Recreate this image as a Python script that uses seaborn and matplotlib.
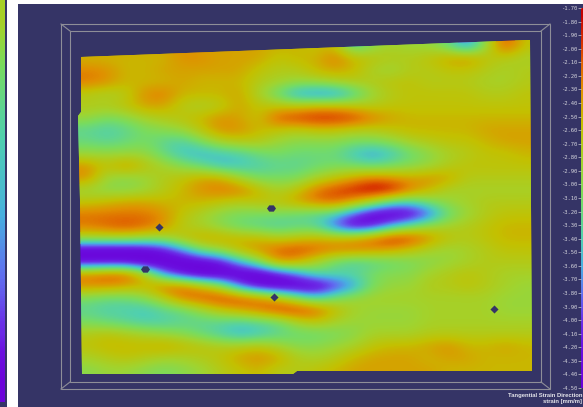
#!/usr/bin/env python3
# -*- coding: utf-8 -*-
"""
Tangential strain map with colour scale
"""

import numpy as np
import pandas as pd
import matplotlib
matplotlib.use('Agg')
import matplotlib.pyplot as plt
from matplotlib.colors import LinearSegmentedColormap
from matplotlib.patches import Polygon, Rectangle
import seaborn as sns

W, H = 583, 407
NAVY = '#353466'
FRAME = '#8e8e98'

# strain, one list per row, top to bottom
row_046 = [-2.4,-2.4,-2.4,-2.4,-2.4,-2.3,-2.4,-2.4,-2.4,-2.4,-2.5,-2.5,-2.6,-2.5,-3.4,-3.0,-2.8,-2.9,-2.9,-3.2,-3.8,-2.9,-2.0,-2.6]
row_058 = [-2.5,-2.5,-2.5,-2.5,-2.5,-2.3,-2.3,-2.4,-2.4,-2.4,-2.6,-2.5,-2.5,-2.2,-2.5,-2.6,-2.7,-2.7,-2.6,-2.4,-2.3,-2.6,-2.7,-2.8]
row_070 = [-2.25,-2.3,-2.5,-2.5,-2.4,-2.4,-2.4,-2.4,-2.4,-2.6,-2.7,-2.7,-2.5,-2.4,-2.5,-2.8,-2.9,-2.7,-2.7,-2.6,-2.6,-2.7,-2.8,-2.7]
row_082 = [-2.2,-2.3,-2.5,-2.5,-2.5,-2.4,-2.5,-2.5,-2.5,-2.7,-2.8,-2.9,-2.9,-2.8,-2.7,-2.7,-2.6,-2.6,-2.7,-2.7,-2.7,-2.8,-2.8,-2.7]
row_094 = [-2.7,-2.8,-2.7,-2.3,-2.2,-2.5,-2.5,-2.5,-2.4,-2.8,-3.2,-3.7,-3.8,-3.8,-3.4,-2.9,-2.7,-2.6,-2.6,-2.6,-2.6,-2.7,-2.7,-2.6]
row_106 = [-2.7,-2.7,-2.6,-2.4,-2.4,-2.7,-2.8,-2.7,-2.4,-2.6,-2.6,-2.6,-2.5,-2.5,-2.6,-2.7,-2.6,-2.6,-2.6,-2.6,-2.6,-2.6,-2.6,-2.6]
row_118 = [-2.9,-3.1,-3.0,-2.8,-2.7,-2.6,-2.5,-2.3,-2.4,-2.6,-2.05,-1.95,-1.85,-1.85,-1.95,-2.2,-2.4,-2.5,-2.5,-2.5,-2.5,-2.5,-2.5,-2.5]
row_130 = [-3.3,-3.4,-3.3,-3.1,-3.0,-2.9,-2.6,-2.3,-2.3,-2.5,-2.6,-2.7,-2.6,-2.6,-2.7,-2.7,-2.6,-2.5,-2.5,-2.5,-2.5,-2.4,-2.4,-2.4]
row_142 = [-3.2,-3.3,-3.2,-3.1,-3.3,-3.4,-3.1,-2.8,-2.7,-2.7,-2.9,-3.0,-3.0,-3.0,-3.1,-3.1,-3.0,-2.8,-2.7,-2.6,-2.6,-2.5,-2.4,-2.4]
row_154 = [-2.9,-2.9,-2.9,-2.9,-3.2,-3.5,-3.6,-3.5,-3.4,-3.2,-3.1,-3.2,-3.2,-3.2,-3.5,-3.7,-3.5,-3.2,-3.0,-2.8,-2.7,-2.6,-2.6,-2.5]
row_166 = [-2.3,-2.6,-2.3,-2.6,-2.8,-3.0,-3.2,-3.5,-3.5,-3.4,-3.3,-3.3,-3.2,-3.1,-3.1,-3.2,-3.1,-3.0,-2.9,-2.7,-2.6,-2.6,-2.6,-2.6]
row_178 = [-2.3,-2.9,-3.0,-2.9,-2.7,-2.6,-2.4,-2.4,-2.8,-3.1,-3.1,-3.1,-2.8,-2.6,-2.4,-2.2,-2.3,-2.4,-2.3,-2.4,-2.7,-2.7,-2.7,-2.7]
row_190 = [-2.9,-3.0,-3.0,-2.9,-2.7,-2.5,-2.3,-2.2,-2.2,-2.5,-2.8,-2.6,-2.2,-2.0,-1.85,-1.7,-1.75,-2.2,-2.5,-2.8,-2.8,-2.8,-2.8,-2.8]
row_202 = [-2.6,-2.5,-2.4,-2.4,-2.5,-2.5,-2.5,-2.6,-2.7,-2.6,-2.6,-2.4,-2.2,-2.1,-2.4,-2.8,-3.3,-3.4,-3.1,-2.9,-2.8,-2.7,-2.7,-2.7]
row_214 = [-2.2,-2.2,-2.2,-2.2,-2.3,-2.6,-2.8,-3.0,-3.1,-3.1,-3.1,-3.2,-3.3,-3.4,-3.9,-4.4,-4.5,-4.4,-3.9,-3.2,-2.9,-2.7,-2.6,-2.6]
row_226 = [-2.2,-2.1,-2.0,-2.1,-2.3,-2.7,-2.8,-3.0,-3.2,-3.3,-3.4,-3.3,-3.3,-3.9,-4.4,-4.2,-3.6,-3.2,-2.9,-2.8,-2.7,-2.6,-2.5,-2.5]
row_238 = [-2.8,-2.8,-2.8,-2.9,-2.9,-2.6,-2.4,-2.4,-2.5,-2.5,-2.7,-2.6,-2.5,-2.5,-2.4,-2.15,-1.85,-1.95,-2.3,-2.6,-2.7,-2.6,-2.5,-2.5]
row_250 = [-4.5,-4.5,-4.5,-4.4,-4.2,-3.7,-3.1,-2.9,-2.5,-2.3,-2.1,-2.0,-2.1,-2.2,-2.2,-2.3,-2.4,-2.6,-2.8,-2.9,-2.8,-2.7,-2.6,-2.6]
row_262 = [-4.3,-4.3,-4.3,-4.5,-4.5,-4.5,-4.4,-4.2,-3.6,-3.1,-2.3,-2.4,-2.8,-3.2,-3.4,-3.3,-3.2,-3.1,-3.0,-2.9,-2.8,-2.7,-2.7,-2.7]
row_274 = [-2.2,-2.05,-2.05,-2.6,-3.7,-4.2,-4.5,-4.5,-4.5,-4.5,-4.2,-3.8,-3.3,-3.3,-3.3,-3.1,-3.0,-3.0,-2.8,-2.7,-2.6,-2.7,-2.8,-2.8]
row_286 = [-2.3,-2.3,-2.4,-2.5,-2.15,-2.15,-2.5,-2.9,-3.8,-4.3,-4.5,-4.5,-4.5,-4.1,-3.7,-3.1,-2.9,-2.9,-2.7,-2.7,-2.6,-2.7,-2.8,-2.9]
row_298 = [-3.1,-3.2,-3.2,-3.0,-2.7,-2.2,-2.05,-1.95,-2.0,-2.2,-2.5,-3.0,-3.4,-3.1,-2.9,-2.8,-2.8,-2.8,-2.8,-2.8,-2.8,-2.8,-2.9,-2.9]
row_310 = [-3.3,-3.4,-3.4,-3.5,-3.3,-3.2,-2.9,-2.6,-2.4,-2.2,-1.95,-1.9,-2.05,-2.5,-2.8,-2.9,-2.9,-2.9,-2.8,-2.8,-2.8,-2.8,-2.9,-2.9]
row_322 = [-3.1,-3.2,-3.3,-3.4,-3.4,-3.3,-3.3,-3.3,-3.4,-3.3,-3.2,-2.8,-2.6,-2.8,-2.9,-2.9,-2.9,-2.9,-2.8,-2.8,-2.8,-2.8,-2.8,-2.8]
row_334 = [-2.7,-2.6,-2.7,-2.8,-2.9,-3.0,-3.2,-3.4,-3.6,-3.5,-3.3,-3.2,-3.2,-3.1,-3.0,-2.8,-2.8,-2.8,-2.7,-2.7,-2.7,-2.7,-2.7,-2.7]
row_346 = [-2.6,-2.5,-2.5,-2.5,-2.4,-2.5,-2.6,-2.7,-2.7,-2.6,-2.8,-3.0,-3.0,-2.9,-2.8,-2.6,-2.5,-2.5,-2.4,-2.3,-2.5,-2.5,-2.4,-2.5]
row_358 = [-2.8,-2.7,-2.6,-2.7,-2.8,-2.8,-2.7,-2.6,-2.4,-2.3,-2.4,-2.7,-2.8,-2.7,-2.5,-2.4,-2.4,-2.4,-2.5,-2.4,-2.4,-2.5,-2.5,-2.5]
row_370 = [-3.0,-2.9,-2.9,-3.0,-3.1,-3.0,-2.9,-2.7,-2.6,-2.5,-2.7,-2.7,-2.6,-2.5,-2.4,-2.4,-2.4,-2.4,-2.4,-2.5,-2.5,-2.5,-2.5,-2.5]

strain_rows = [row_046, row_058, row_070, row_082, row_094, row_106, row_118,
               row_130, row_142, row_154, row_166, row_178, row_190, row_202,
               row_214, row_226, row_238, row_250, row_262, row_274, row_286,
               row_298, row_310, row_322, row_334, row_346, row_358, row_370]

# holes in the mesh, in picture pixels
hole_x = [159, 274, 494]
hole_y = [227, 297, 309]
wide_hole_x = [271, 145]
wide_hole_y = [208, 269]

# colour scale
scale_ticks = [-1.7, -1.8, -1.9, -2.0, -2.1, -2.2, -2.3, -2.4, -2.5, -2.6,
               -2.7, -2.8, -2.9, -3.0, -3.1, -3.2, -3.3, -3.4, -3.5, -3.6,
               -3.7, -3.8, -3.9, -4.0, -4.1, -4.2, -4.3, -4.4, -4.5]
strip_levels = [-2.8, -3.1, -3.3, -3.45, -3.55, -3.7, -3.85, -4.05, -4.45]

VMIN, VMAX = -4.5, -1.7
color_stops = [(-4.5, '#6a00d8'), (-4.2, '#6a10e0'), (-4.0, '#6a30e8'),
               (-3.8, '#6070f0'), (-3.6, '#48b0e0'), (-3.4, '#50d0b0'),
               (-3.1, '#78dc60'), (-2.85, '#a0d430'), (-2.55, '#c4c000'),
               (-2.3, '#e09000'), (-2.1, '#e06000'), (-1.95, '#d83000'),
               (-1.75, '#c40000'), (-1.7, '#c40000')]
strain_cmap = LinearSegmentedColormap.from_list(
    'strain', [((v - VMIN) / (VMAX - VMIN), c) for v, c in color_stops])


def px_axes(fig, x0, y0, x1, y1):
    """axes from picture pixels"""
    return fig.add_axes([x0 / W, 1 - y1 / H, (x1 - x0) / W, (y1 - y0) / H])


fig = plt.figure(figsize=(W / 100, H / 100), dpi=100, facecolor='white')

# background and the frame
bg = fig.add_axes([0, 0, 1, 1])
bg.set_xlim(0, W)
bg.set_ylim(H, 0)
bg.axis('off')
bg.add_patch(Rectangle((18, 4), W - 18, H - 4, facecolor=NAVY, edgecolor='none'))
bg.add_patch(Rectangle((0, 0), 7, H, facecolor=NAVY, edgecolor='none'))
for x0, y0, x1, y1 in [(61, 24, 550, 389), (70, 31, 541, 382)]:
    bg.add_patch(Rectangle((x0, y0), x1 - x0, y1 - y0, fill=False,
                           edgecolor=FRAME, linewidth=0.8))
for a, b in [((61, 24), (70, 31)), ((550, 24), (541, 31)),
             ((61, 389), (70, 382)), ((550, 389), (541, 382))]:
    bg.plot([a[0], b[0]], [a[1], b[1]], color=FRAME, linewidth=0.8)

# strain mesh
CELL_W, CELL_H = 19, 12
X0, Y0 = 78, 40
strain = pd.DataFrame(strain_rows)
ax = px_axes(fig, X0, Y0, X0 + CELL_W * strain.shape[1], Y0 + CELL_H * strain.shape[0])
cax = px_axes(fig, 581, 8, 583, 388)
sns.heatmap(strain, ax=ax, cmap=strain_cmap, vmin=VMIN, vmax=VMAX,
            xticklabels=False, yticklabels=False, cbar_ax=cax,
            cbar_kws={'ticks': scale_ticks})
ax.patch.set_visible(False)


def to_cell(x, y):
    return (np.asarray(x, dtype=float) - X0) / CELL_W, (np.asarray(y, dtype=float) - Y0) / CELL_H


outline_px = [(81, 57), (528, 40), (530, 40), (532, 371), (297, 371), (293, 374),
              (82, 374), (80, 200), (78, 116), (81, 112)]
outline = Polygon([to_cell(*p) for p in outline_px], closed=True,
                  transform=ax.transData, facecolor='none', edgecolor='none')
ax.add_patch(outline)
smooth = ax.imshow(strain.values, cmap=strain_cmap, vmin=VMIN, vmax=VMAX, aspect='auto',
                   interpolation='bicubic', zorder=3,
                   extent=(0, strain.shape[1], strain.shape[0], 0))
smooth.set_clip_path(outline)
ax.collections[0].set_clip_path(outline)

hx, hy = to_cell(hole_x, hole_y)
ax.scatter(hx, hy, marker='D', s=17, color=NAVY, linewidths=0, zorder=5)
hx, hy = to_cell(wide_hole_x, wide_hole_y)
wide_marker = [(-1, 0), (-0.5, 0.7), (0.5, 0.7), (1, 0), (0.5, -0.7), (-0.5, -0.7)]
ax.scatter(hx, hy, marker=wide_marker, s=42, color=NAVY, linewidths=0, zorder=5)

# right scale
cax.yaxis.set_ticks_position('left')
cax.set_yticklabels([f'{v:.2f}' for v in scale_ticks], family='DejaVu Sans Mono',
                    fontsize=4, color='#d4d4dc')
cax.tick_params(axis='y', length=2.2, width=0.5, color='#c8c8d0', pad=0.6)
for spine in cax.spines.values():
    spine.set_visible(False)

# the cut off scale at the left edge
strip = px_axes(fig, 0, 0, 5, 402)
strip.imshow(np.array(strip_levels).reshape(-1, 1), cmap=strain_cmap, vmin=VMIN, vmax=VMAX,
             aspect='auto', interpolation='bilinear')
strip.axis('off')

# scale title
fig.text(582 / W, 1 - 395 / H, 'Tangential Strain Direction', ha='right', va='center',
         fontsize=4.2, fontweight='bold', family='Liberation Sans', color='#e4e4ea')
fig.text(582 / W, 1 - 402 / H, 'strain [mm/m]', ha='right', va='center',
         fontsize=4.2, fontweight='bold', family='Liberation Sans', color='#e4e4ea')

plt.savefig('out.png', dpi=100)
